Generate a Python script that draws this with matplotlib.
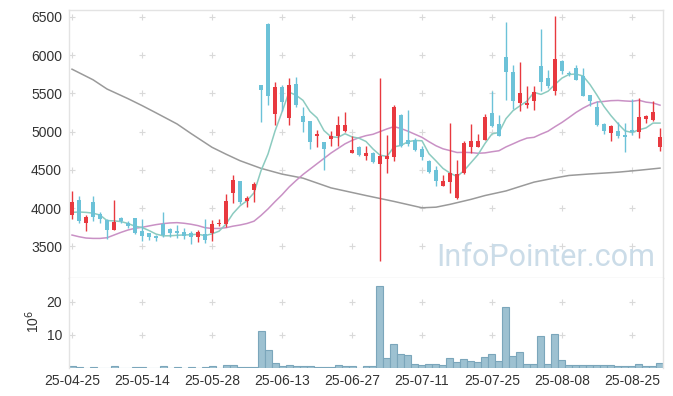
import numpy as np
import pandas as pd
import matplotlib
matplotlib.use('Agg')
import matplotlib.pyplot as plt

# ---------------- data ----------------
holidays = ['2025-05-01', '2025-05-05', '2025-05-06', '2025-06-03', '2025-06-06', '2025-08-15']
dates = pd.bdate_range('2025-04-25', '2025-08-29')
dates = dates[~dates.isin(pd.to_datetime(holidays))]

opens = [3912, 4110, 3811, 4083, 3925, 3847, 3715, 3873, 3811, 3868,
         3702, 3671, 3636, 3794, 3728, 3706, 3689, 3675, 3618, 3659,
         3673, 3795, 3795, 4204, 4349, 4100, 4231, 5612, 6410, 5224,
         5586, 5176, 5621, 5207, 5142, 4937, 4858, 4902, 4937, 5002,
         4719, 4797, 4675, 4719, 4575, 4640, 4662, 5220, 4885, 4885,
         4771, 4610, 4501, 4296, 4336, 4139, 4458, 4793, 4793, 4894,
         5242, 5098, 5975, 5783, 5373, 5351, 5394, 5861, 5700, 5525,
         5926, 5770, 5830, 5730, 5473, 5316, 5102, 4980, 5011, 4959,
         5024, 4989, 5164, 5146, 4793]
highs = [4228, 4162, 3912, 4162, 3956, 3855, 4110, 3890, 3838, 3868,
         3860, 3671, 3649, 3952, 3737, 3781, 3737, 3706, 3715, 3860,
         3847, 3860, 4182, 4431, 4349, 4161, 4340, 5612, 6419, 5643,
         5612, 5700, 5717, 5320, 5142, 5024, 4858, 5002, 5198, 5254,
         4937, 4815, 4806, 4727, 5700, 4955, 5351, 5229, 5285, 4915,
         4806, 4623, 4545, 4436, 5111, 4623, 4872, 5098, 4967, 5233,
         5525, 5220, 6432, 5874, 5909, 5590, 5590, 6334, 5809, 6507,
         5940, 5790, 5873, 5830, 5482, 5394, 5111, 5089, 5124, 5111,
         5425, 5438, 5220, 5403, 5045]
lows = [3864, 3811, 3702, 3838, 3803, 3596, 3715, 3803, 3737, 3658,
        3566, 3583, 3566, 3618, 3618, 3610, 3601, 3531, 3562, 3542,
        3576, 3764, 3760, 4065, 4056, 4013, 4087, 5124, 5351, 5089,
        5263, 5089, 5320, 4994, 4776, 4797, 4497, 4806, 4806, 4989,
        4719, 4675, 4623, 4588, 3314, 4457, 4619, 4798, 4806, 4741,
        4632, 4457, 4283, 4283, 4196, 4122, 4449, 4719, 4793, 4885,
        5059, 4945, 5407, 5294, 5272, 5307, 5277, 5525, 5569, 5482,
        5752, 5730, 5677, 5460, 5329, 5076, 4972, 4872, 4915, 4728,
        4959, 4915, 5111, 5133, 4752]
closes = [4075, 3838, 3886, 3890, 3860, 3715, 3820, 3838, 3768, 3680,
          3636, 3618, 3610, 3649, 3680, 3671, 3640, 3627, 3684, 3585,
          3790, 3808, 4095, 4370, 4087, 4130, 4318, 5538, 5460, 5586,
          5381, 5612, 5342, 5120, 4858, 4967, 4776, 4937, 5089, 5089,
          4763, 4693, 4723, 4597, 4684, 4684, 5316, 4815, 4841, 4763,
          4667, 4466, 4349, 4349, 4458, 4444, 4850, 4872, 4872, 5186,
          5068, 4945, 5774, 5394, 5503, 5373, 5516, 5643, 5600, 5948,
          5787, 5750, 5677, 5469, 5394, 5089, 5011, 5076, 4946, 4924,
          4989, 5185, 5198, 5259, 4924]
volumes = [0.7, 0.4, 0.0, 0.4, 0.0, 0.0, 0.7, 0.0, 0.0, 0.4,
           0.4, 0.0, 0.0, 0.7, 0.0, 0.4, 0.0, 0.4, 0.0, 0.45,
           0.75, 0.0, 1.0, 1.0, 0.35, 0.35, 0.35, 11.1, 5.3, 1.6,
           0.75, 1.05, 0.65, 0.65, 0.65, 0.4, 0.4, 0.4, 0.8, 0.5,
           0.5, 0.0, 0.5, 0.5, 24.7, 2.9, 7.2, 4.1, 3.8, 1.1,
           0.9, 1.1, 1.1, 0.9, 2.9, 1.9, 2.6, 2.2, 1.9, 3.2,
           4.1, 2.0, 18.3, 3.5, 4.7, 1.1, 1.1, 9.6, 1.3, 10.2,
           2.3, 1.05, 1.05, 1.0, 1.0, 1.0, 1.0, 0.8, 0.5, 0.7,
           0.7, 1.1, 0.7, 0.7, 1.4]
ma5 = [3945, 3950, 3945, 3935, 3910, 3838, 3834, 3825, 3800, 3764,
       3748, 3708, 3662, 3639, 3639, 3646, 3650, 3653, 3660, 3641,
       3665, 3699, 3792, 3930, 4030, 4098, 4200, 4489, 4707, 5006,
       5257, 5515, 5476, 5408, 5263, 5180, 5013, 4932, 4925, 4972,
       4931, 4914, 4871, 4773, 4692, 4676, 4801, 4819, 4868, 4884,
       4880, 4710, 4617, 4519, 4458, 4413, 4490, 4595, 4699, 4845,
       4970, 4989, 5169, 5273, 5337, 5398, 5512, 5486, 5527, 5616,
       5699, 5746, 5752, 5726, 5615, 5476, 5328, 5208, 5103, 5009,
       4989, 5024, 5048, 5111, 5111]
ma20 = [3649, 3627, 3610, 3605, 3605, 3614, 3649, 3684, 3715, 3737,
        3750, 3768, 3785, 3798, 3807, 3811, 3803, 3790, 3772, 3745,
        3735, 3735, 3745, 3765, 3780, 3800, 3830, 3905, 3990, 4085,
        4175, 4275, 4360, 4440, 4510, 4580, 4650, 4720, 4780, 4840,
        4885, 4920, 4947, 4965, 5000, 5035, 5065, 5040, 5005, 4965,
        4925, 4868, 4815, 4775, 4752, 4727, 4729, 4726, 4717, 4722,
        4737, 4750, 4800, 4840, 4881, 4915, 4925, 4967, 5005, 5064,
        5120, 5184, 5250, 5306, 5353, 5386, 5394, 5404, 5407, 5400,
        5395, 5409, 5385, 5374, 5345]
ma_long_idx = [0, 3, 5, 8, 10, 12, 15, 17, 20, 22, 24, 27, 30, 33, 37, 42,
               46, 50, 52, 54, 57, 59, 62, 64, 66, 69, 71, 74, 76, 78, 81, 84]
ma_long = [5815, 5677, 5556, 5430, 5340, 5245, 5100, 4975, 4795, 4705, 4620,
           4520, 4445, 4392, 4265, 4165, 4088, 4005, 4013, 4050, 4115, 4165,
           4225, 4283, 4340, 4395, 4427, 4447, 4458, 4470, 4495, 4523]
price_ticks = [3500, 4000, 4500, 5000, 5500, 6000, 6500]
vol_ticks = [10, 20]

# ---------------- style ----------------
RED = '#e8393f'
BLUE = '#6cc2d8'
SPINE = '#e3e3e3'
GRIDC = '#d9d9d9'
TXT = '#333333'
plt.rcParams['font.family'] = ['Liberation Sans', 'DejaVu Sans']

W, H = 673, 396
fig = plt.figure(figsize=(W / 100, H / 100), dpi=100)
L, R = 69, 663
ax1 = fig.add_axes([L / W, 1 - 278 / H, (R - L) / W, (278 - 10) / H])
ax2 = fig.add_axes([L / W, 1 - 368 / H, (R - L) / W, (368 - 278) / H], sharex=ax1)

n = len(closes)
x = np.arange(n)
o = np.array(opens, float); c = np.array(closes, float)
hi = np.array(highs, float); lo = np.array(lows, float)
up = c >= o
cols = np.where(up, RED, BLUE)

# grid crosses
xt = x[::10]
gx, gy = np.meshgrid(xt, price_ticks)
ax1.scatter(gx.ravel(), gy.ravel(), marker='+', s=14, color=GRIDC, linewidths=0.8, zorder=0)
gx2, gy2 = np.meshgrid(xt, vol_ticks)
ax2.scatter(gx2.ravel(), gy2.ravel(), marker='+', s=14, color=GRIDC, linewidths=0.8, zorder=0)

# watermark
fig.text(546 / W, 1 - 266.5 / H, 'InfoPointer.com', ha='center', va='baseline',
         fontsize=22, color='#cbdce8', family=['Roboto', 'DejaVu Sans'], zorder=0)

# moving averages
ax1.plot(ma_long_idx, ma_long, color='#9a9a9a', lw=1.1, zorder=2)
ax1.plot(x, ma20, color='#c991c5', lw=1.1, zorder=2)
ax1.plot(x, ma5, color='#8ccbc0', lw=1.1, zorder=2)

# candles
ax1.vlines(x, lo, hi, colors=cols, lw=1.0, zorder=3)
body_lo = np.minimum(o, c)
body_h = np.maximum(np.abs(c - o), 12)
ax1.bar(x, body_h, bottom=body_lo, width=0.68, color=cols, edgecolor='none', zorder=4)

# volume
ax2.bar(x, volumes, width=1.0, color='#9dc1d1', edgecolor='#7ba6bb', linewidth=0.8, zorder=2)

# axes
ax1.set_xlim(-0.43, 84.43)
ax1.set_ylim(3088, 6588)
ax2.set_ylim(0, 27.1)
ax1.set_yticks(price_ticks)
ax2.set_yticks(vol_ticks)
ax2.set_xticks(xt)
ax2.set_xticklabels([d.strftime('%y-%m-%d') for d in dates[::10]])
ax1.tick_params(axis='x', labelbottom=False, length=0)
ax1.tick_params(axis='y', length=0, pad=5, labelsize=10, labelcolor=TXT)
ax2.tick_params(axis='y', length=0, pad=5, labelsize=10, labelcolor=TXT)
ax2.tick_params(axis='x', length=0, pad=4, labelsize=10, labelcolor=TXT)
for ax in (ax1, ax2):
    for s in ax.spines.values():
        s.set_color(SPINE)
        s.set_linewidth(1.0)
ax2.spines['top'].set_visible(False)
ax2.spines['bottom'].set_visible(False)

fig.text(33 / W, 1 - 321 / H, '10$^{6}$', rotation=90, ha='center', va='center',
         fontsize=10, color=TXT)

fig.savefig('out.png', dpi=100)
